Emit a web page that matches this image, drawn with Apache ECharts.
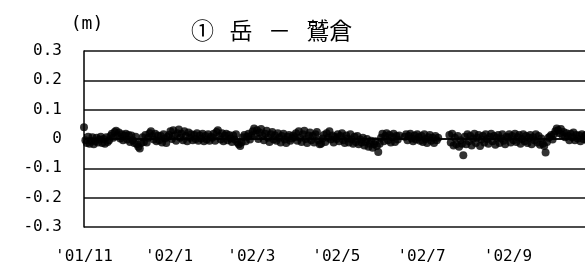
<!DOCTYPE html>
<html>
<head>
<meta charset="utf-8">
<script src="https://cdn.jsdelivr.net/npm/echarts@6/dist/echarts.min.js"></script>
<style>
	html, body { margin: 0; padding: 0; background: #fff; }
	#chart { width: 585px; height: 267px; }
</style>
</head>
<body>
<div id="chart"></div>
<script>
// daily readings (m), one array per month, null = no data
var nov01 = [0.040, -0.004, -0.014, 0.008, -0.016, -0.006, 0.006, -0.018, -0.008, 0.004, -0.012, -0.002, 0.008, -0.014, 0.000, -0.016, 0.006, -0.010, -0.004, 0.010, 0.018, 0.004, 0.024, 0.028, 0.012, 0.022, 0.002, 0.016, -0.004, 0.012]
var dec01 = [0.018, -0.002, 0.014, -0.010, 0.012, -0.004, -0.014, 0.008, -0.018, -0.026, -0.032, -0.014, 0.006, -0.010, 0.014, -0.012, 0.004, 0.020, 0.026, 0.010, -0.002, 0.018, -0.008, 0.012, -0.004, 0.010, -0.012, 0.016, 0.002, -0.014, 0.008]
var jan02 = [0.014, 0.026, 0.000, 0.030, 0.012, -0.006, 0.020, 0.032, 0.004, 0.018, -0.004, 0.026, 0.010, -0.008, 0.022, 0.004, 0.016, -0.004, 0.014, 0.000, 0.020, -0.006, 0.012, 0.002, 0.018, -0.008, 0.010, -0.002, 0.016, -0.006, 0.008]
var feb02 = [0.004, 0.018, -0.006, 0.024, 0.030, 0.010, -0.002, 0.020, -0.008, 0.012, 0.018, -0.004, 0.014, 0.002, -0.010, 0.012, -0.002, 0.016, -0.012, -0.018, -0.024, -0.012, 0.006, 0.014, -0.008, 0.008, 0.018, -0.002]
var mar02 = [0.012, 0.026, 0.036, 0.016, 0.030, 0.000, 0.022, 0.034, 0.010, -0.004, 0.018, 0.028, 0.004, -0.010, 0.016, 0.024, -0.002, 0.012, -0.006, 0.020, 0.004, -0.012, 0.010, 0.018, -0.002, -0.014, 0.008, 0.014, -0.006, 0.002, 0.012]
var apr02 = [0.006, 0.020, -0.006, 0.026, 0.004, -0.010, 0.016, 0.028, 0.000, -0.014, 0.012, 0.022, -0.004, 0.010, -0.012, 0.016, 0.024, -0.004, -0.018, -0.016, 0.002, 0.014, -0.010, 0.020, 0.004, 0.026, -0.002, 0.012, -0.012, 0.008]
var may02 = [0.000, 0.016, -0.008, 0.010, 0.020, -0.004, -0.014, 0.012, 0.002, -0.012, 0.016, -0.002, -0.016, 0.008, -0.010, 0.010, -0.018, -0.002, -0.012, 0.004, -0.022, -0.010, 0.000, -0.026, -0.016, -0.006, -0.030, -0.018, -0.008, -0.024, -0.044]
var jun02 = [-0.016, 0.004, 0.018, -0.008, 0.010, 0.020, -0.004, 0.014, -0.012, 0.006, 0.018, -0.010, 0.010, -0.002, 0.012, null, null, null, 0.008, 0.016, -0.004, 0.010, 0.018, 0.002, -0.008, 0.012, -0.002, 0.016, 0.006, -0.006]
var jul02 = [0.010, -0.010, 0.016, 0.000, -0.014, 0.006, 0.014, -0.006, 0.004, -0.014, 0.010, -0.004, 0.004, null, null, null, null, null, null, null, 0.014, -0.012, 0.018, -0.022, 0.004, -0.018, 0.010, -0.026, -0.004, -0.016, -0.055]
var aug02 = [0.008, -0.018, 0.016, -0.008, 0.010, -0.022, 0.002, 0.018, -0.014, 0.004, 0.014, -0.024, -0.002, 0.010, -0.012, 0.016, 0.000, -0.016, 0.008, 0.018, -0.008, 0.010, -0.020, 0.004, 0.014, -0.014, 0.002, 0.016, -0.006, -0.018, 0.008]
var sep02 = [0.004, 0.016, -0.012, 0.010, -0.004, 0.018, -0.010, 0.006, 0.014, -0.016, 0.000, 0.016, -0.008, 0.010, -0.014, 0.004, 0.014, -0.018, 0.006, -0.004, 0.016, -0.012, 0.010, -0.020, 0.002, -0.016, -0.024, -0.046, -0.010, 0.004]
var oct02 = [0.008, 0.014, -0.002, 0.016, 0.026, 0.036, 0.030, 0.020, 0.034, 0.014, 0.024, 0.006, 0.020, 0.010, -0.004, 0.018, 0.006, 0.022, -0.004, 0.014, 0.002, 0.012, -0.008, 0.016, 0.000, 0.010, 0.014, -0.006, 0.006, 0.012, 0.002]

var startDate = '2001-11-01'
var endDate = '2002-11-01'
var yTicks = [-0.3, -0.2, -0.1, 0, 0.1, 0.2, 0.3]

// one category per day
var days = []
var d = new Date(startDate + 'T00:00:00Z')
var stop = new Date(endDate + 'T00:00:00Z')
while (d <= stop) {
	days.push(d.toISOString().slice(0, 10))
	d.setUTCDate(d.getUTCDate() + 1)
}
var values = [].concat(nov01, dec01, jan02, feb02, mar02, apr02, may02, jun02, jul02, aug02, sep02, oct02)
while (values.length < days.length) values.push(null)

function isLabelDay(v) {
	var m = +v.slice(5, 7)
	return v.slice(8) === '01' && m % 2 === 1
}

var monoFont = '"DejaVu Sans Mono", monospace'

var chart = echarts.init(document.getElementById('chart'))
chart.setOption({
	animation: false,
	title: {
		text: '①   岳   －   鷲倉',
		left: 186,
		top: 14,
		textStyle: {
			fontFamily: '"Noto Sans CJK JP"',
			fontWeight: 'normal',
			fontSize: 23,
			color: '#000'
		}
	},
	grid: {
		left: 84,
		top: 51,
		bottom: 40,
		right: -8,
		containLabel: false,
		outerBoundsMode: 'none'
	},
	xAxis: {
		type: 'category',
		data: days,
		boundaryGap: false,
		axisLine: { lineStyle: { color: '#000', width: 1.5 } },
		axisTick: {
			inside: true,
			length: 5,
			interval: function (i, v) { return isLabelDay(v) },
			lineStyle: { color: '#000' }
		},
		axisLabel: {
			// the last day sits off the canvas, so no label for it
			interval: function (i, v) { return isLabelDay(v) && v !== endDate },
			margin: 22,
			color: '#000',
			fontFamily: monoFont,
			fontSize: 16,
			formatter: function (v) {
				return "'" + v.slice(2, 4) + '/' + (+v.slice(5, 7))
			}
		},
		splitLine: { show: false }
	},
	yAxis: {
		type: 'value',
		min: yTicks[0],
		max: yTicks[yTicks.length - 1],
		interval: 0.1,
		name: '(m)',
		nameLocation: 'end',
		nameGap: 18,
		nameTextStyle: {
			color: '#000',
			fontFamily: monoFont,
			fontSize: 18,
			padding: [0, 0, 0, 6]
		},
		axisLine: { show: true, lineStyle: { color: '#000', width: 1.5 } },
		axisTick: { show: false },
		axisLabel: {
			margin: 22,
			color: '#000',
			fontFamily: monoFont,
			fontSize: 16,
			formatter: function (v) {
				var r = Math.round(v * 10) / 10
				return r === 0 ? '0' : r.toFixed(1)
			}
		},
		splitLine: { lineStyle: { color: '#111', width: 1.5 } }
	},
	series: [{
		type: 'scatter',
		data: values,
		symbol: 'circle',
		symbolSize: 8,
		itemStyle: { color: '#000' }
	}]
})
</script>
</body>
</html>
